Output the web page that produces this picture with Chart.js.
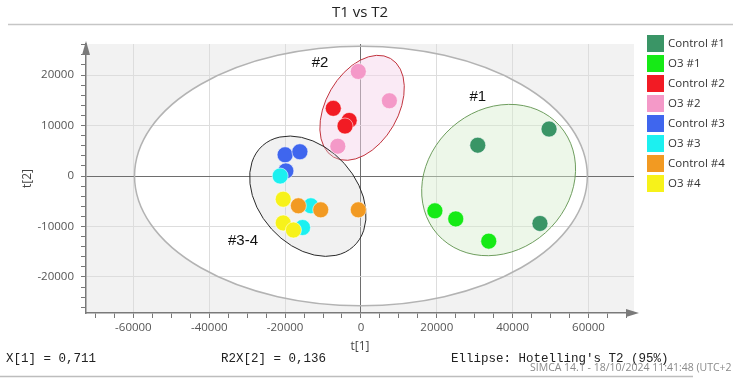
<!DOCTYPE html>
<html>
<head>
<meta charset="utf-8">
<title>T1 vs T2</title>
<script src="https://cdn.jsdelivr.net/npm/chart.js@4.4.1/dist/chart.umd.min.js"></script>
<style>
  html, body { margin: 0; padding: 0; background: #fff; }
  #wrap { width: 733px; height: 380px; }
</style>
</head>
<body>
<div id="wrap"><canvas id="scoreChart" width="733" height="380"></canvas></div>
<script>
// Score plot t[1] / t[2]
const groups = ['Control #1', 'O3 #1', 'Control #2', 'O3 #2', 'Control #3', 'O3 #3', 'Control #4', 'O3 #4'];
const groupColors = ['#3a9566', '#16ea16', '#f21b24', '#f499c8', '#3f66ee', '#1cf0f0', '#f29a22', '#f7f21a'];

const t1Values = [
  [30800, 49600, 47200],
  [19500, 25000, 33700],
  [-7300, -3100, -4200],
  [-700, 7500, -6100],
  [-20000, -16100, -19800],
  [-21300, -13200, -15400],
  [-16500, -10600, -700],
  [-20500, -20500, -17800]
];
const t2Values = [
  [6100, 9300, -9400],
  [-6900, -8500, -12900],
  [13400, 11000, 9900],
  [20700, 14900, 5900],
  [4200, 4800, 1000],
  [0, -5900, -10200],
  [-5900, -6700, -6700],
  [-4600, -9300, -10700]
];

const xMajorTicks = [-60000, -40000, -20000, 0, 20000, 40000, 60000];
const yMajorTicks = [-20000, -10000, 0, 10000, 20000];

// confidence regions, in data units (rotation in degrees on screen)
const hotelling = { cx: 0, cy: 0, rx: 59700, ry: 25700, rot: 0 };
const clusterRegions = [
  { cx: 36300, cy: -800, rx: 21550, ry: 13960, rot: -41.7, fill: 'rgba(214,238,206,0.45)', line: '#6f9e5f' },
  { cx: 300, cy: 13500, rx: 15020, ry: 7130, rot: -60, fill: 'rgba(246,214,236,0.5)', line: '#c2343e' },
  { cx: -14000, cy: -4000, rx: 17900, ry: 9700, rot: 48, fill: 'rgba(215,215,215,0.35)', line: '#2a2a2a' }
];
const clusterNames = ['#1', '#2', '#3-4'];
const clusterNameX = [30800, -10800, -31100];
const clusterNameY = [15600, 22400, -12900];

function stepTicks(axis, step) {
  const ticks = [];
  for (let v = Math.ceil(axis.min / step) * step; v <= axis.max; v += step) ticks.push({ value: v });
  axis.ticks = ticks;
}

function gridColor(c, majors) {
  const v = c.tick ? c.tick.value : null;
  if (v === 0) return '#6e6e6e';
  return majors.includes(v) ? '#dddddd' : 'rgba(0,0,0,0)';
}

function traceEllipse(chart, e) {
  const xs = chart.scales.x, ys = chart.scales.y;
  const cx = xs.getPixelForValue(e.cx), cy = ys.getPixelForValue(e.cy);
  const rx = Math.abs(xs.getPixelForValue(e.cx + e.rx) - cx);
  const ry = Math.abs(ys.getPixelForValue(e.cy + e.ry) - cy);
  chart.ctx.beginPath();
  chart.ctx.ellipse(cx, cy, rx, ry, e.rot * Math.PI / 180, 0, Math.PI * 2);
}

const simcaDecor = {
  id: 'simcaDecor',
  beforeDraw(chart) {
    const { ctx, chartArea: a } = chart;
    ctx.save();
    ctx.fillStyle = '#fff';
    ctx.fillRect(0, 0, chart.width, chart.height);
    ctx.fillStyle = '#f2f2f2';
    ctx.fillRect(a.left, a.top, a.right - a.left, a.bottom - a.top);
    traceEllipse(chart, hotelling);
    ctx.fillStyle = '#fff';
    ctx.fill();
    ctx.restore();
  },
  beforeDatasetsDraw(chart) {
    const ctx = chart.ctx;
    ctx.save();
    traceEllipse(chart, hotelling);
    ctx.strokeStyle = '#b3b3b3';
    ctx.lineWidth = 1.5;
    ctx.stroke();
    clusterRegions.forEach(r => {
      traceEllipse(chart, r);
      ctx.fillStyle = r.fill;
      ctx.fill();
      ctx.strokeStyle = r.line;
      ctx.lineWidth = 1;
      ctx.stroke();
    });
    ctx.fillStyle = '#111';
    ctx.font = '15px "Liberation Sans", Arial, sans-serif';
    ctx.textAlign = 'center';
    ctx.textBaseline = 'middle';
    clusterNames.forEach((n, i) => {
      ctx.fillText(n, chart.scales.x.getPixelForValue(clusterNameX[i]), chart.scales.y.getPixelForValue(clusterNameY[i]));
    });
    ctx.restore();
  },
  afterDraw(chart) {
    const { ctx, chartArea: a } = chart;
    ctx.save();
    // title (SIMCA centres it over the plot + legend block)
    ctx.fillStyle = '#222';
    ctx.font = '15px "Open Sans", sans-serif';
    ctx.textAlign = 'center';
    ctx.textBaseline = 'middle';
    ctx.fillText('T1 vs T2', 360, 13);

    // axis arrows
    ctx.fillStyle = '#7a7a7a';
    ctx.beginPath();
    ctx.moveTo(a.right + 5, a.bottom);
    ctx.lineTo(a.right - 8, a.bottom - 4);
    ctx.lineTo(a.right - 8, a.bottom + 4);
    ctx.closePath();
    ctx.fill();
    ctx.beginPath();
    ctx.moveTo(a.left, a.top - 3);
    ctx.lineTo(a.left - 4, a.top + 11);
    ctx.lineTo(a.left + 4, a.top + 11);
    ctx.closePath();
    ctx.fill();

    // rule under the title and over the footer
    ctx.strokeStyle = '#c6c6c6';
    ctx.lineWidth = 1.5;
    ctx.beginPath();
    ctx.moveTo(8, 24.5);
    ctx.lineTo(733, 24.5);
    ctx.stroke();
    ctx.strokeStyle = '#bdbdbd';
    ctx.beginPath();
    ctx.moveTo(0, 376.5);
    ctx.lineTo(693, 376.5);
    ctx.stroke();

    // legend
    ctx.font = '11.5px "Open Sans", sans-serif';
    ctx.textAlign = 'left';
    chart.data.datasets.forEach((ds, i) => {
      ctx.fillStyle = ds.backgroundColor;
      ctx.fillRect(647, 35 + i * 20, 17, 17);
      ctx.fillStyle = '#333';
      ctx.fillText(ds.label, 668, 43.5 + i * 20);
    });

    // footer
    ctx.fillStyle = '#222';
    ctx.font = '12.5px "Liberation Mono", monospace';
    ctx.fillText('X[1] = 0,711', 6, 359);
    ctx.fillText('R2X[2] = 0,136', 221, 359);
    ctx.fillText("Ellipse: Hotelling's T2 (95%)", 451, 359);
    ctx.fillStyle = '#8a8a8a';
    ctx.font = '10.5px "Open Sans", sans-serif';
    ctx.fillText('SIMCA 14.1 - 18/10/2024 11:41:48 (UTC+2', 530, 368);
    ctx.restore();
  }
};

const tickFont = { family: 'Open Sans', size: 11.5 };
const axisTitleFont = { family: 'Open Sans', size: 12 };

new Chart(document.getElementById('scoreChart'), {
  type: 'scatter',
  data: {
    datasets: groups.map((g, i) => ({
      label: g,
      data: t1Values[i].map((x, j) => ({ x: x, y: t2Values[i][j] })),
      backgroundColor: groupColors[i],
      borderColor: 'rgba(255,255,255,0.55)',
      borderWidth: 1,
      pointRadius: 8,
      order: groups.length - i
    }))
  },
  options: {
    responsive: false,
    animation: false,
    events: [],
    layout: { padding: { left: 0, right: 99, top: 44, bottom: 0 } },
    plugins: {
      legend: { display: false },
      tooltip: { enabled: false },
      title: { display: false }
    },
    scales: {
      x: {
        type: 'linear',
        min: -72500,
        max: 72000,
        afterBuildTicks: axis => stepTicks(axis, 5000),
        afterFit: s => { s.height = 67; },
        ticks: {
          autoSkip: false,
          maxRotation: 0,
          padding: 3,
          color: '#555',
          font: tickFont,
          callback: v => xMajorTicks.includes(v) ? String(v) : ''
        },
        grid: { color: c => gridColor(c, xMajorTicks), tickColor: '#777', tickLength: 5, lineWidth: 1 },
        border: { color: '#7a7a7a', width: 1.5 },
        title: { display: true, text: 't[1]', color: '#444', font: axisTitleFont, padding: { top: 0, bottom: 26 } }
      },
      y: {
        type: 'linear',
        min: -27130,
        max: 26140,
        afterBuildTicks: axis => stepTicks(axis, 2000),
        afterFit: s => { s.width = 86; },
        ticks: {
          autoSkip: false,
          padding: 7,
          color: '#555',
          font: tickFont,
          callback: v => yMajorTicks.includes(v) ? String(v) : ''
        },
        grid: { color: c => gridColor(c, yMajorTicks), tickColor: '#777', tickLength: 5, lineWidth: 1 },
        border: { color: '#7a7a7a', width: 1.5 },
        title: { display: true, text: 't[2]', color: '#444', font: axisTitleFont, padding: { top: 20, bottom: 0 } }
      }
    }
  },
  plugins: [simcaDecor]
});
</script>
</body>
</html>
